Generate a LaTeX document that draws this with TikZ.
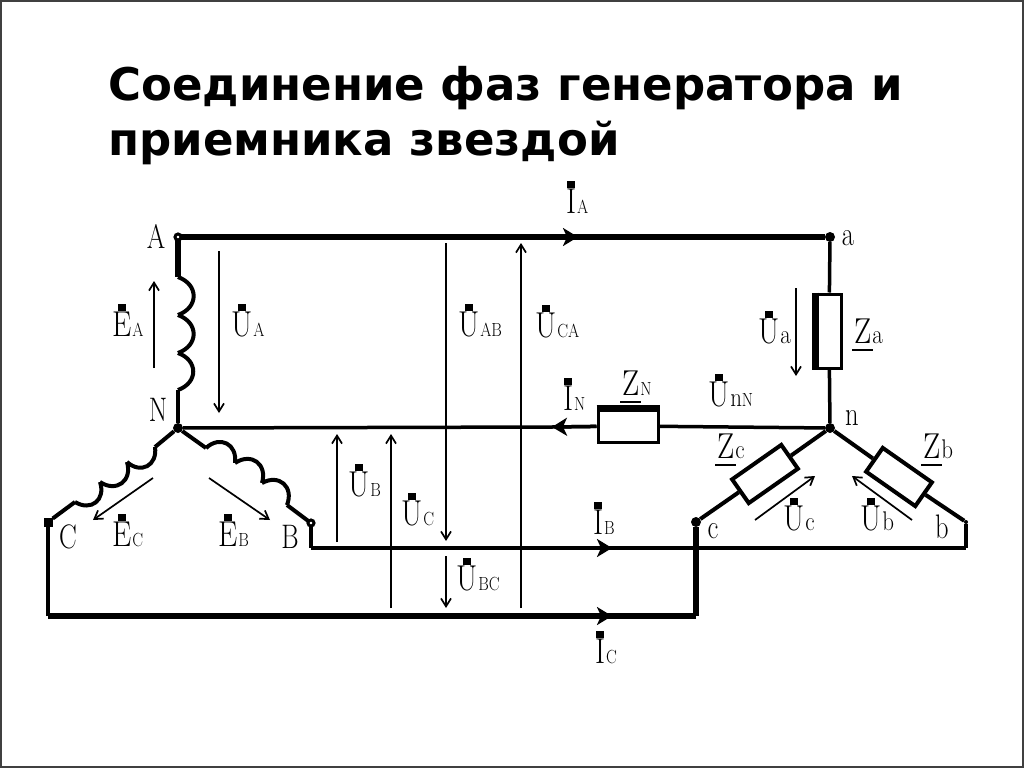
\documentclass[tikz,border=0pt]{standalone}
\usepackage{fontspec}
\usepackage{graphicx}
\newfontfamily\titlefont{DejaVu Sans}
\usetikzlibrary{arrows.meta}

\newcommand{\lowSub}[1]{{\fontsize{27}{27}\selectfont #1}}
\newcommand{\phasorLabel}[2]{\scalebox{0.85}[1]{\ooalign{#1\cr\hidewidth\raisebox{26pt}{\rule{9pt}{7pt}}\hidewidth\cr}\hspace{1pt}{\fontsize{19}{19}\selectfont #2}}}
\newcommand{\zLabel}[1]{\scalebox{0.85}[1]{\ooalign{Z\cr\hidewidth\rule[-7pt]{25pt}{2pt}\hidewidth\cr}\hspace{1pt}{\fontsize{19}{19}\selectfont #1}}}

\begin{document}
\begin{tikzpicture}
[x=1pt,y=-1pt,
  wireHeavy/.style={-,line width=6.5pt},
  wireThick/.style={-,line width=5.5pt},
  wireMedium/.style={-,line width=4pt},
  wireThin/.style={-,line width=3.5pt},
  arrowDecorate/.style={line width=1.7pt,-{Straight Barb[length=8pt,width=10pt]}},
  tipDecorate/.style={line width=3.5pt,-{Stealth[length=15pt,width=18pt,inset=4pt]}},
  dotDecorate/.style={shape=circle,fill,inner sep=0pt,minimum size=10pt},
  squareDecorate/.style={shape=rectangle,fill,inner sep=0pt,minimum size=9pt},
  tinyDecorate/.style={shape=circle,fill,inner sep=0pt,minimum size=4pt},
  ringDecorate/.style={shape=circle,draw,fill=white,line width=3pt,inner sep=0pt,minimum size=6pt},
  boxDecorate/.style={shape=rectangle,draw,fill=white,inner sep=0pt,line width=3pt},
  labelDecorate/.style={anchor=base west,inner sep=0pt,yshift=1.5pt,font=\fontsize{36}{36}\selectfont},
  letterDecorate/.style={anchor=base,inner sep=0pt,font=\fontsize{34}{34}\selectfont}]
\useasboundingbox (0,0) rectangle (1024,768);
\draw[line width=2pt,draw=black!75] (1,1) rectangle (1023,767);
\node (titleOne) at (108,100) [anchor=base west,inner sep=0pt,font=\titlefont\fontsize{45}{45}\selectfont\bfseries] {Соединение фаз генератора и};
\node (titleTwo) at (108,155) [anchor=base west,inner sep=0pt,font=\titlefont\fontsize{45}{45}\selectfont\bfseries] {приемника звездой};
%% corner points
\foreach \nodename/\x/\y in {
  cornerCA/48/616, cornerCB/696/616, cornerBA/311/548, cornerBB/966/548,
  tipA/578/237, tipN/552/427, tipB/612/548, tipC/612/616,
  coilAa/178/277, coilAb/178/315, coilAc/178/353, coilAd/178/390,
  coilBa/206/448, coilBb/235/463, coilBc/262/483, coilBd/287/505,
  coilCa/155/447, coilCb/127/462, coilCc/100/482, coilCd/75/502}
{
  \coordinate (\nodename) at (\x,\y);
}
%% terminals
\foreach \nodename/\x/\y/\kind in {
  ptN/178/428/dot, ptC/48/522/square, ptb/966/522/tiny,
  pta/830/237/dot, ptn/830/428/dot, ptc/696/522/dot}
{
  \node (\nodename) at (\x,\y) [\kind Decorate] {};
}
%% impedances
\node (boxN) at (628,426) [boxDecorate,minimum width=60pt,minimum height=32pt] {};
\node (boxa) at (829,331) [boxDecorate,minimum width=24pt,minimum height=74pt] {};
\node (boxc) at (765,474) [boxDecorate,line width=4pt,minimum width=60pt,minimum height=29pt,rotate=35] {};
\node (boxb) at (899,477) [boxDecorate,line width=4pt,minimum width=60pt,minimum height=29pt,rotate=-35] {};
\draw[wireHeavy,yshift=-1.5pt] (boxN.north west) -- (boxN.north east);
\draw[wireHeavy,xshift=1.5pt] (boxa.north west) -- (boxa.south west);
%% wires
\coordinate (ptAc) at (178,237);
\coordinate (ptBc) at (311,523);
\path
\foreach \startnode/\endnode in {
  ptAc/tipA, tipA/pta, ptAc/coilAa}
{
  (\startnode) edge[wireThick] node {} (\endnode)
}
\foreach \startnode/\endnode in {
  ptc/cornerCB, cornerCB/cornerCA}
{
  (\startnode) edge[wireHeavy] node {} (\endnode)
}
\foreach \startnode/\endnode in {
  coilAd/ptN, ptN/coilBa, coilBd/ptBc, ptN/coilCa, coilCd/ptC,
  cornerBA/tipB, tipB/cornerBB, ptc/boxc, boxc/ptn, ptn/boxb, boxb/ptb}
{
  (\startnode) edge[wireMedium] node {} (\endnode)
}
\foreach \startnode/\endnode in {
  pta/boxa, boxa/ptn, ptN/tipN, tipN/boxN, boxN/ptn,
  cornerCA/ptC, ptBc/cornerBA, cornerBB/ptb}
{
  (\startnode) edge[wireThin] node {} (\endnode)
}
\foreach \startnode/\endnode in {
  coilAa/coilAb, coilAb/coilAc, coilAc/coilAd,
  coilCa/coilCb, coilCb/coilCc, coilCc/coilCd,
  coilBa/coilBb, coilBb/coilBc, coilBc/coilBd}
{
  (\startnode) edge[wireMedium,bend left=70,looseness=1.5] node {} (\endnode)
};
\foreach \nodename/\x/\y in {ptA/178/237, ptB/311/523}
{
  \node (\nodename) at (\x,\y) [ringDecorate] {};
}
%% tips on the wires
\draw[tipDecorate] (ptA) -- (tipA);
\draw[tipDecorate] (boxN) -- (tipN);
\draw[tipDecorate] (cornerBA) -- (tipB);
\draw[tipDecorate] (cornerCA) -- (tipC);
%% ends of the voltage and emf arrows
\foreach \nodename/\x/\y in {
  eaS/154/368, eaE/154/281, uaS/219/251, uaE/219/413,
  uabS/446/243, uabE/446/541, ubcS/446/556, ubcE/446/608,
  ucaS/521/608, ucaE/521/243, ubS/337/542, ubE/337/434,
  ucS/391/608, ucE/391/434, uloadaS/796/288, uloadaE/796/376,
  ecS/153/478, ecE/93/520, ebS/209/478, ebE/270/520,
  uloadcS/755/520, uloadcE/815/476, uloadbS/912/520, uloadbE/852/476}
{
  \coordinate (\nodename) at (\x,\y);
}
\foreach \startnode/\endnode in {
  eaS/eaE, uaS/uaE, uabS/uabE, ubcS/ubcE, ucaS/ucaE, ubS/ubE, ucS/ucE,
  uloadaS/uloadaE, ecS/ecE, ebS/ebE, uloadcS/uloadcE, uloadbS/uloadbE}
{
  \draw[arrowDecorate] (\startnode) -- (\endnode);
}
%% phasor labels
\foreach \nodename/\x/\y/\letter/\sub in {
  lEA/112/338/E/A, lUA/231/338/U/A, lEC/112/548/E/C, lEB/218/548/E/B,
  lUAB/458/338/U/AB, lUCA/535/339/U/CA, lUa/758/345/U/\lowSub{a}, lIA/566/215/I/A,
  lIN/563/412/I/N, lUnN/708/408/U/\lowSub{n}N, lUB/348/498/U/B, lUC/401/527/U/C,
  lUBC/456/592/U/BC, lIB/593/536/I/B, lIC/595/665/I/C, lUc/783/532/U/\lowSub{c}, lUb/860/532/U/\lowSub{b}}
{
  \node (\nodename) at (\x,\y) [labelDecorate] {\phasorLabel{\letter}{\sub}};
}
%% impedance labels
\foreach \nodename/\x/\y/\sub in {
  lZa/854/345/\lowSub{a}, lZN/622/397/N, lZc/717/460/\lowSub{c}, lZb/923/460/\lowSub{b}}
{
  \node (\nodename) at (\x,\y) [labelDecorate] {\zLabel{\sub}};
}
%% terminal letters
\foreach \nodename/\x/\y/\letter in {
  lA/156/248/A, lN/158/421/N, lC/68/548/C, lB/290/548/B,
  la/848/245/a, ln/852/425/n, lc/713/538/c, lb/942/538/b}
{
  \node (\nodename) at (\x,\y) [letterDecorate] {\scalebox{0.78}[1]{\letter}};
}
\end{tikzpicture}
\end{document}
